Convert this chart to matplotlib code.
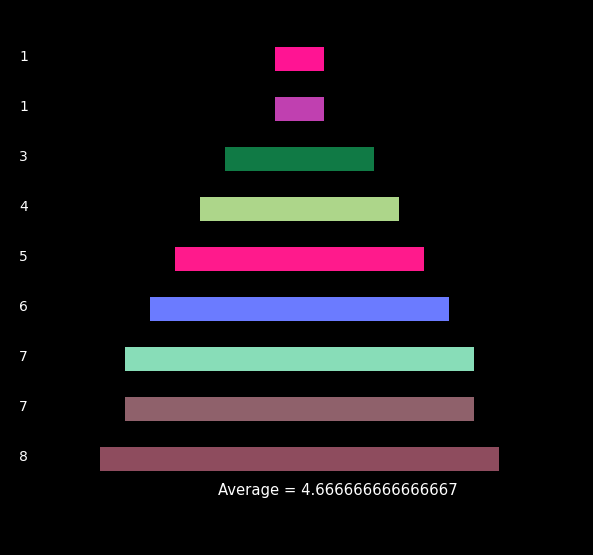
import matplotlib
matplotlib.use("Agg")
import matplotlib.pyplot as plt

values = [1, 1, 3, 4, 5, 6, 7, 7, 8]
labels = [str(v) for v in values]
colors = ['#FF1493', '#C040B0', '#107A45', '#ADD68A', '#FF1A8C',
          '#6B7BFF', '#88DDB8', '#8F616B', '#8E4C5E']
average = sum(values) / len(values)

fig = plt.figure(figsize=(5.93, 5.55), dpi=100, facecolor='black')
ax = fig.add_axes([0, 0, 1, 1])
ax.set_facecolor('black')

# centered bars, funnel style
positions = list(range(len(values)))
ax.barh(positions, values, left=[-v / 2 for v in values], height=0.48,
        color=colors, edgecolor='none')

ax.set_xlim(-6.005, 5.885)
ax.set_ylim(9.924, -1.176)
ax.axis('off')

for p, lab in zip(positions, labels):
    ax.text(19 / 593, p - 0.045, lab, transform=ax.get_yaxis_transform(),
            color='white', fontsize=10, ha='left', va='center')

fig.text(337.5 / 593, 1 - 491 / 555, f"Average = {average}", color='white',
         fontsize=10.7, ha='center', va='center')

fig.savefig("out.png", dpi=100, facecolor='black')
